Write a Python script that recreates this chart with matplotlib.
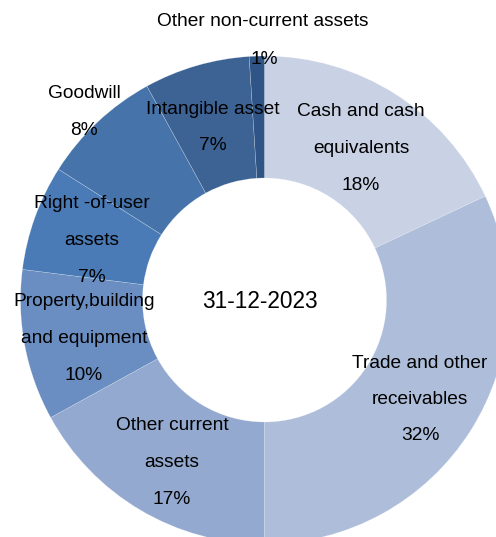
import matplotlib
matplotlib.use("Agg")
import matplotlib.pyplot as plt

plt.rcParams["font.family"] = ["Liberation Sans", "DejaVu Sans"]

# ── Data ──────────────────────────────────────────────────────────────────────
categories = ["Cash and cash\nequivalents", "Trade and other\nreceivables",
              "Other current\nassets", "Property,building\nand equipment",
              "Right -of-user\nassets", "Goodwill", "Intangible asset",
              "Other non-current assets"]
shares = [18, 32, 17, 10, 7, 8, 7, 1]
colors = ["#C9D1E4", "#AEBEDA", "#94A9CF", "#6A8EC1",
          "#4A7BB7", "#4673A9", "#3D6395", "#2F5587"]
center_label = "31-12-2023"

# label anchor (pixel coords of first line centre)
label_pos = [(361, 112), (420, 363), (172, 426), (84, 302),
             (92, 204), (84, 94), (213, 109), (263, 21)]

W, H = 496, 537
fig = plt.figure(figsize=(W / 100, H / 100), dpi=100)
ax = fig.add_axes([0, 0, 1, 1])

cx, cy, r_out, r_in = 264.5, H - 300, 244, 122
ax.pie(shares, colors=colors, startangle=90, counterclock=False,
       radius=r_out, center=(cx, cy),
       wedgeprops=dict(width=r_out - r_in, edgecolor=(1, 1, 1, 0.45), linewidth=0.3))

ax.set_xlim(0, W)
ax.set_ylim(0, H)
ax.set_aspect("auto")
ax.axis("off")

step = 36.5
fs = 13.8
for name, pct, (x, y) in zip(categories, shares, label_pos):
    lines = name.split("\n") + [f"{pct}%"]
    if name == "Other non-current assets":
        # percent sits just above the ring
        ax.text(x, H - y, lines[0], ha="center", va="center", fontsize=fs)
        ax.text(x + 1, H - 59, lines[1], ha="center", va="center", fontsize=fs)
        continue
    for i, ln in enumerate(lines):
        ax.text(x, H - (y + i * step), ln, ha="center", va="center", fontsize=fs)

ax.text(260, H - 302, center_label, ha="center", va="center", fontsize=16.3)

fig.savefig("out.png", dpi=100)
